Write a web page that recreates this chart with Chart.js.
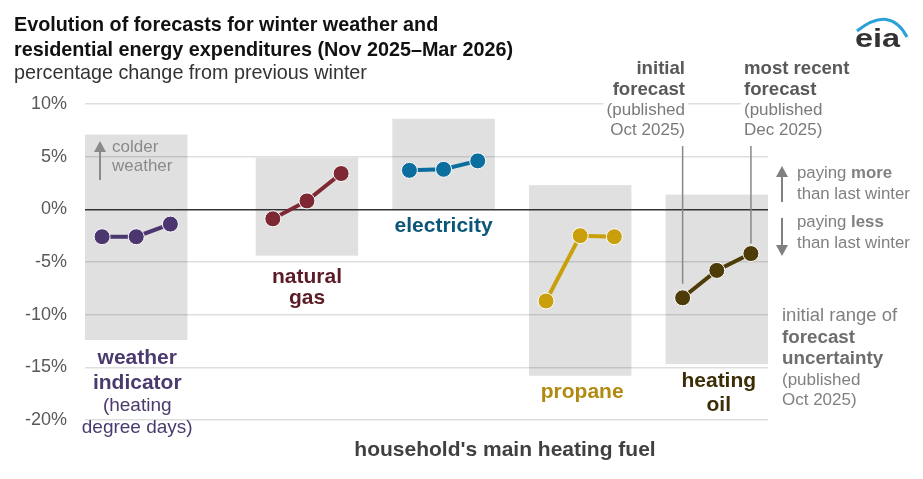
<!DOCTYPE html>
<html>
<head>
<meta charset="utf-8">
<script src="https://cdn.jsdelivr.net/npm/chart.js@4/dist/chart.umd.min.js"></script>
<style>
  html, body { margin: 0; padding: 0; background: #fff; }
  canvas { display: block; }
</style>
</head>
<body>
<canvas id="chart" width="923" height="479"></canvas>
<script>
// forecasts: initial (Oct 2025), middle, most recent (Dec 2025)
const categories = ['weather indicator', 'natural gas', 'electricity', 'propane', 'heating oil'];
const forecastLabels = ['Oct 2025', 'Nov 2025', 'Dec 2025'];
const weatherValues = [-2.6, -2.6, -1.4];
const naturalGasValues = [-0.9, 0.8, 3.4];
const electricityValues = [3.7, 3.8, 4.6];
const propaneValues = [-8.7, -2.5, -2.6];
const heatingOilValues = [-8.4, -5.8, -4.2];
// initial range of forecast uncertainty
const rangeLow = [-12.4, -4.4, 0, -15.8, -14.7];
const rangeHigh = [7.1, 4.9, 8.6, 2.3, 1.4];
const yTicks = [-20, -15, -10, -5, 0, 5, 10];

const FONT = '"Liberation Sans", Arial, sans-serif';
const groupX = [0.75, 3.25, 5.25, 7.25, 9.25];
const pointStep = 0.5;
const boxHalf = 0.75;
const markerColors = ['#4b3670', '#7d2833', '#0b6e9f', '#c9a00c', '#4d3b08'];
const labelColors = ['#4a3a6e', '#5b1c25', '#0b5679', '#b08a10', '#3b2d05'];
const seriesValues = [weatherValues, naturalGasValues, electricityValues, propaneValues, heatingOilValues];

const datasets = seriesValues.map((vals, i) => ({
  label: categories[i],
  data: vals.map((v, j) => ({ x: groupX[i] + (j - 1) * pointStep, y: v })),
  showLine: true,
  borderColor: markerColors[i],
  backgroundColor: markerColors[i],
  borderWidth: 4,
  pointRadius: 8,
  pointBorderColor: '#ffffff',
  pointBorderWidth: 1,
  pointBackgroundColor: markerColors[i]
}));

function text(ctx, str, x, y, font, color, align) {
  ctx.font = font;
  ctx.fillStyle = color;
  ctx.textAlign = align || 'left';
  ctx.textBaseline = 'alphabetic';
  ctx.fillText(str, x, y);
}

// draws pieces [[text, bold], ...] left to right
function mixed(ctx, parts, x, y, size, color) {
  ctx.textAlign = 'left';
  ctx.textBaseline = 'alphabetic';
  parts.forEach(([s, bold]) => {
    ctx.font = (bold ? 'bold ' : '') + size + 'px ' + FONT;
    ctx.fillStyle = color;
    ctx.fillText(s, x, y);
    x += ctx.measureText(s).width;
  });
}

function arrow(ctx, x, y1, y2, color) {
  const dir = y2 < y1 ? -1 : 1;
  ctx.strokeStyle = color;
  ctx.fillStyle = color;
  ctx.lineWidth = 2;
  ctx.beginPath();
  ctx.moveTo(x, y1);
  ctx.lineTo(x, y2 - dir * 9);
  ctx.stroke();
  ctx.beginPath();
  ctx.moveTo(x, y2);
  ctx.lineTo(x - 6, y2 - dir * 11);
  ctx.lineTo(x + 6, y2 - dir * 11);
  ctx.closePath();
  ctx.fill();
}

function whiteBack(ctx, str, x, y, font, align) {
  ctx.font = font;
  const w = ctx.measureText(str).width;
  const left = align === 'right' ? x - w : x;
  ctx.fillStyle = '#ffffff';
  ctx.fillRect(left - 3, y - 16, w + 6, 20);
}

const rangeBoxes = {
  id: 'rangeBoxes',
  beforeDraw(chart) {
    const { ctx, scales: { x, y } } = chart;
    ctx.save();
    ctx.fillStyle = '#ffffff';
    ctx.fillRect(0, 0, chart.width, chart.height);
    ctx.fillStyle = '#e0e0e0';
    groupX.forEach((gx, i) => {
      const l = x.getPixelForValue(gx - boxHalf);
      const r = x.getPixelForValue(gx + boxHalf);
      const t = y.getPixelForValue(rangeHigh[i]);
      const b = y.getPixelForValue(rangeLow[i]);
      ctx.fillRect(l, t, r - l, b - t);
    });
    ctx.restore();
  }
};

const annotations = {
  id: 'annotations',
  afterDraw(chart) {
    const { ctx, scales: { x, y } } = chart;
    ctx.save();

    // title block
    text(ctx, 'Evolution of forecasts for winter weather and', 14, 31, 'bold 19.8px ' + FONT, '#111');
    text(ctx, 'residential energy expenditures (Nov 2025\u2013Mar 2026)', 14, 56, 'bold 19.8px ' + FONT, '#111');
    text(ctx, 'percentage change from previous winter', 14, 79, '19.8px ' + FONT, '#333');

    // eia logo
    ctx.strokeStyle = '#2a9fd8';
    ctx.lineWidth = 3;
    ctx.beginPath();
    ctx.moveTo(857, 31);
    ctx.quadraticCurveTo(890, 5, 907, 37);
    ctx.stroke();
    ctx.save();
    ctx.translate(855, 47);
    ctx.scale(1.3, 1);
    text(ctx, 'eia', 0, 0, 'bold 25px ' + FONT, '#333');
    ctx.restore();

    // forecast call-outs
    const grey = '#595959';
    const lgrey = '#7a7a7a';
    const xInit = x.getPixelForValue(datasets[4].data[0].x);
    const xLast = x.getPixelForValue(datasets[4].data[2].x);
    text(ctx, 'initial', 685, 74, 'bold 18.6px ' + FONT, grey, 'right');
    text(ctx, 'forecast', 685, 95, 'bold 18.6px ' + FONT, grey, 'right');
    whiteBack(ctx, '(published', 685, 115, '17px ' + FONT, 'right');
    text(ctx, '(published', 685, 115, '17px ' + FONT, lgrey, 'right');
    text(ctx, 'Oct 2025)', 685, 135, '17px ' + FONT, lgrey, 'right');
    text(ctx, 'most recent', 744, 74, 'bold 18.6px ' + FONT, grey);
    text(ctx, 'forecast', 744, 95, 'bold 18.6px ' + FONT, grey);
    whiteBack(ctx, '(published', 744, 115, '17px ' + FONT, 'left');
    text(ctx, '(published', 744, 115, '17px ' + FONT, lgrey);
    text(ctx, 'Dec 2025)', 744, 135, '17px ' + FONT, lgrey);

    ctx.strokeStyle = '#888';
    ctx.lineWidth = 1.5;
    ctx.beginPath();
    ctx.moveTo(xInit, 146);
    ctx.lineTo(xInit, y.getPixelForValue(heatingOilValues[0]) - 14);
    ctx.moveTo(xLast, 146);
    ctx.lineTo(xLast, y.getPixelForValue(heatingOilValues[2]) - 10);
    ctx.stroke();

    // paying more / less
    const ag = '#808080';
    arrow(ctx, 782, 202, 166, ag);
    mixed(ctx, [['paying ', false], ['more', true]], 797, 178, 16.8, ag);
    mixed(ctx, [['than last winter', false]], 797, 199, 16.8, ag);
    arrow(ctx, 782, 218, 256, ag);
    mixed(ctx, [['paying ', false], ['less', true]], 797, 227, 16.8, ag);
    mixed(ctx, [['than last winter', false]], 797, 248, 16.8, ag);

    // uncertainty note
    text(ctx, 'initial range of', 782, 321, '18.5px ' + FONT, ag);
    text(ctx, 'forecast', 782, 343, 'bold 18.8px ' + FONT, '#6d6d6d');
    text(ctx, 'uncertainty', 782, 364, 'bold 18.8px ' + FONT, '#6d6d6d');
    text(ctx, '(published', 782, 385, '17px ' + FONT, ag);
    text(ctx, 'Oct 2025)', 782, 405, '17px ' + FONT, ag);

    // colder weather
    arrow(ctx, 100, 180, 141, '#8a8a8a');
    text(ctx, 'colder', 112, 152, '17px ' + FONT, '#8a8a8a');
    text(ctx, 'weather', 112, 171, '17px ' + FONT, '#8a8a8a');

    // category labels
    const cx = groupX.map(g => x.getPixelForValue(g));
    const bold = 'bold 21px ' + FONT;
    text(ctx, 'weather', cx[0] + 1, 364, bold, labelColors[0], 'center');
    text(ctx, 'indicator', cx[0] + 1, 389, bold, labelColors[0], 'center');
    text(ctx, '(heating', cx[0] + 1, 411, '19px ' + FONT, labelColors[0], 'center');
    text(ctx, 'degree days)', cx[0] + 1, 433, '19px ' + FONT, labelColors[0], 'center');
    text(ctx, 'natural', cx[1], 283, bold, labelColors[1], 'center');
    text(ctx, 'gas', cx[1], 304, bold, labelColors[1], 'center');
    text(ctx, 'electricity', cx[2], 232, bold, labelColors[2], 'center');
    text(ctx, 'propane', cx[3] + 2, 398, bold, labelColors[3], 'center');
    text(ctx, 'heating', cx[4] + 2, 387, bold, labelColors[4], 'center');
    text(ctx, 'oil', cx[4] + 2, 411, bold, labelColors[4], 'center');

    text(ctx, "household's main heating fuel", 505, 456, 'bold 21px ' + FONT, '#404040', 'center');
    ctx.restore();
  }
};

new Chart(document.getElementById('chart').getContext('2d'), {
  type: 'scatter',
  data: { datasets },
  options: {
    responsive: false,
    devicePixelRatio: 1,
    animation: false,
    layout: { padding: { top: 104, right: 155, bottom: 59, left: 0 } },
    plugins: { legend: { display: false }, tooltip: { enabled: false } },
    scales: {
      x: { type: 'linear', min: 0, max: 10, display: false },
      y: {
        min: yTicks[0],
        max: yTicks[yTicks.length - 1],
        afterBuildTicks: s => { s.ticks = yTicks.map(v => ({ value: v })); },
        afterFit: s => { s.width = 85; },
        ticks: {
          padding: 18,
          color: '#595959',
          font: { family: FONT, size: 18 },
          callback: v => v + '%'
        },
        grid: {
          drawTicks: false,
          color: c => (c.tick && c.tick.value === 0 ? '#333333' : 'rgba(0,0,0,0.13)'),
          lineWidth: 1.5
        },
        border: { display: false }
      }
    }
  },
  plugins: [rangeBoxes, annotations]
});
</script>
</body>
</html>
